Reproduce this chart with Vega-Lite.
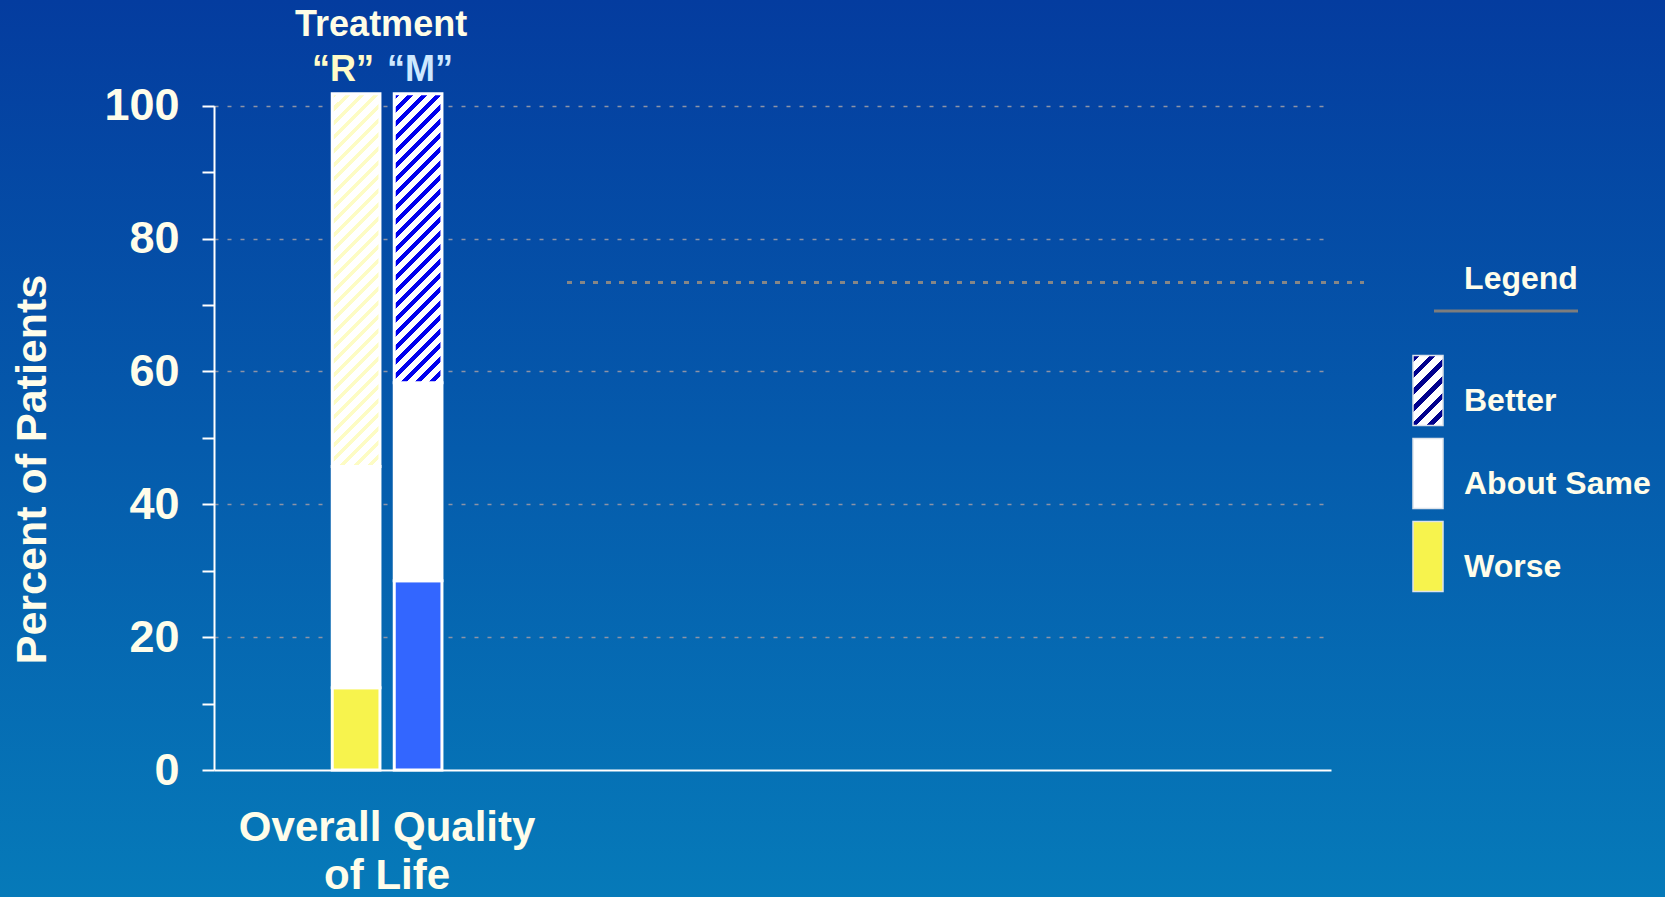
{
  "$schema": "https://vega.github.io/schema/vega-lite/v6.json",
  "width": 1665,
  "height": 897,
  "padding": 0,
  "autosize": {"type": "none"},
  "background": "#0560ab",
  "view": {
    "stroke": null,
    "fill": {"gradient": "linear", "x1": 1, "y1": 0, "x2": 1, "y2": 1,
      "stops": [{"offset": 0, "color": "#043c9f"}, {"offset": 1, "color": "#067ab9"}]}
  },
  "config": {"font": "Liberation Sans"},
  "datasets": {
    "bars": [
      {"Domain": "Overall Quality of Life", "Treatment": "R", "Response": "Worse", "Rank": 1, "Percent": 12.4},
      {"Domain": "Overall Quality of Life", "Treatment": "R", "Response": "About Same", "Rank": 2, "Percent": 33.3},
      {"Domain": "Overall Quality of Life", "Treatment": "R", "Response": "Better", "Rank": 3, "Percent": 56.1},
      {"Domain": "Overall Quality of Life", "Treatment": "M", "Response": "Worse", "Rank": 1, "Percent": 28.5},
      {"Domain": "Overall Quality of Life", "Treatment": "M", "Response": "About Same", "Rank": 2, "Percent": 29.8},
      {"Domain": "Overall Quality of Life", "Treatment": "M", "Response": "Better", "Rank": 3, "Percent": 43.5}
    ],
    "heads": [
      {"Domain": "Overall Quality of Life", "Treatment": "R", "Label": "“R”"},
      {"Domain": "Overall Quality of Life", "Treatment": "M", "Label": "“M”"}
    ]
  },
  "resolve": {"scale": {"x": "independent"}},
  "layer": [
    {
      "layer": [
        {
          "data": {"name": "bars"},
          "mark": {"type": "bar", "stroke": "#ffffff", "strokeWidth": 3},
          "encoding": {
            "x": {
              "field": "Domain", "type": "nominal",
              "scale": {"range": [214, 1331], "paddingInner": 0.7822, "paddingOuter": 1, "align": 0.1174},
              "axis": {
                "orient": "bottom", "offset": -127, "title": null, "ticks": false, "grid": false,
                "domainColor": "#ffffff", "domainWidth": 2, "zindex": 1,
                "labelExpr": "['Overall Quality', 'of Life']",
                "labelFontSize": 42, "labelFontWeight": "bold", "labelColor": "#fffdea",
                "labelPadding": 37, "labelLineHeight": 48, "labelAngle": 0, "labelLimit": 500, "labelBaseline": "top"
              }
            },
            "xOffset": {"field": "Treatment", "type": "nominal", "sort": ["R", "M"], "scale": {"paddingInner": 0.2306, "paddingOuter": 0}},
            "y": {
              "field": "Percent", "type": "quantitative", "stack": "zero",
              "scale": {"domain": [0, 100], "range": [770, 105.7], "nice": false, "zero": false},
              "axis": {
                "orient": "left", "offset": -214,
                "values": [0, 10, 20, 30, 40, 50, 60, 70, 80, 90, 100],
                "labelExpr": "datum.value % 20 === 0 ? datum.label : ''",
                "labelOverlap": false,
                "labelFontSize": 45, "labelFontWeight": "bold", "labelColor": "#fffdea", "labelPadding": 23,
                "tickSize": 12, "tickWidth": 2, "tickColor": "#ffffff",
                "domainColor": "#ffffff", "domainWidth": 2,
                "grid": true, "gridColor": "#8d93a6", "gridWidth": 1.5, "gridDash": [4, 9],
                "gridOpacity": {"condition": {"test": "datum.value > 0 && datum.value % 20 === 0", "value": 1}, "value": 0},
                "title": "Percent of Patients", "titleFontSize": 43, "titleFontWeight": "bold", "titleColor": "#fffdea",
                "titleAngle": -90, "titleX": -169, "titleY": 469, "titleAlign": "center", "titleBaseline": "alphabetic"
              }
            },
            "order": {"field": "Rank", "type": "quantitative", "sort": "ascending"},
            "fill": {
              "condition": [
                {"test": "datum.Treatment === 'R' && datum.Response === 'Better'", "value": {"gradient": "linear", "x1": 0, "y1": 0, "x2": 0.142, "y2": 1.1098, "stops": [
                  {"offset": 0, "color": "#fdfcc4"}, {"offset": 0.0133, "color": "#fdfcc4"}, {"offset": 0.0133, "color": "#ffffff"}, {"offset": 0.0333, "color": "#ffffff"},
                  {"offset": 0.0333, "color": "#fdfcc4"}, {"offset": 0.0467, "color": "#fdfcc4"}, {"offset": 0.0467, "color": "#ffffff"}, {"offset": 0.0667, "color": "#ffffff"},
                  {"offset": 0.0667, "color": "#fdfcc4"}, {"offset": 0.08, "color": "#fdfcc4"}, {"offset": 0.08, "color": "#ffffff"}, {"offset": 0.1, "color": "#ffffff"},
                  {"offset": 0.1, "color": "#fdfcc4"}, {"offset": 0.1133, "color": "#fdfcc4"}, {"offset": 0.1133, "color": "#ffffff"}, {"offset": 0.1333, "color": "#ffffff"},
                  {"offset": 0.1333, "color": "#fdfcc4"}, {"offset": 0.1467, "color": "#fdfcc4"}, {"offset": 0.1467, "color": "#ffffff"}, {"offset": 0.1667, "color": "#ffffff"},
                  {"offset": 0.1667, "color": "#fdfcc4"}, {"offset": 0.18, "color": "#fdfcc4"}, {"offset": 0.18, "color": "#ffffff"}, {"offset": 0.2, "color": "#ffffff"},
                  {"offset": 0.2, "color": "#fdfcc4"}, {"offset": 0.2133, "color": "#fdfcc4"}, {"offset": 0.2133, "color": "#ffffff"}, {"offset": 0.2333, "color": "#ffffff"},
                  {"offset": 0.2333, "color": "#fdfcc4"}, {"offset": 0.2467, "color": "#fdfcc4"}, {"offset": 0.2467, "color": "#ffffff"}, {"offset": 0.2667, "color": "#ffffff"},
                  {"offset": 0.2667, "color": "#fdfcc4"}, {"offset": 0.28, "color": "#fdfcc4"}, {"offset": 0.28, "color": "#ffffff"}, {"offset": 0.3, "color": "#ffffff"},
                  {"offset": 0.3, "color": "#fdfcc4"}, {"offset": 0.3133, "color": "#fdfcc4"}, {"offset": 0.3133, "color": "#ffffff"}, {"offset": 0.3333, "color": "#ffffff"},
                  {"offset": 0.3333, "color": "#fdfcc4"}, {"offset": 0.3467, "color": "#fdfcc4"}, {"offset": 0.3467, "color": "#ffffff"}, {"offset": 0.3667, "color": "#ffffff"},
                  {"offset": 0.3667, "color": "#fdfcc4"}, {"offset": 0.38, "color": "#fdfcc4"}, {"offset": 0.38, "color": "#ffffff"}, {"offset": 0.4, "color": "#ffffff"},
                  {"offset": 0.4, "color": "#fdfcc4"}, {"offset": 0.4133, "color": "#fdfcc4"}, {"offset": 0.4133, "color": "#ffffff"}, {"offset": 0.4333, "color": "#ffffff"},
                  {"offset": 0.4333, "color": "#fdfcc4"}, {"offset": 0.4467, "color": "#fdfcc4"}, {"offset": 0.4467, "color": "#ffffff"}, {"offset": 0.4667, "color": "#ffffff"},
                  {"offset": 0.4667, "color": "#fdfcc4"}, {"offset": 0.48, "color": "#fdfcc4"}, {"offset": 0.48, "color": "#ffffff"}, {"offset": 0.5, "color": "#ffffff"},
                  {"offset": 0.5, "color": "#fdfcc4"}, {"offset": 0.5133, "color": "#fdfcc4"}, {"offset": 0.5133, "color": "#ffffff"}, {"offset": 0.5333, "color": "#ffffff"},
                  {"offset": 0.5333, "color": "#fdfcc4"}, {"offset": 0.5467, "color": "#fdfcc4"}, {"offset": 0.5467, "color": "#ffffff"}, {"offset": 0.5667, "color": "#ffffff"},
                  {"offset": 0.5667, "color": "#fdfcc4"}, {"offset": 0.58, "color": "#fdfcc4"}, {"offset": 0.58, "color": "#ffffff"}, {"offset": 0.6, "color": "#ffffff"},
                  {"offset": 0.6, "color": "#fdfcc4"}, {"offset": 0.6133, "color": "#fdfcc4"}, {"offset": 0.6133, "color": "#ffffff"}, {"offset": 0.6333, "color": "#ffffff"},
                  {"offset": 0.6333, "color": "#fdfcc4"}, {"offset": 0.6467, "color": "#fdfcc4"}, {"offset": 0.6467, "color": "#ffffff"}, {"offset": 0.6667, "color": "#ffffff"},
                  {"offset": 0.6667, "color": "#fdfcc4"}, {"offset": 0.68, "color": "#fdfcc4"}, {"offset": 0.68, "color": "#ffffff"}, {"offset": 0.7, "color": "#ffffff"},
                  {"offset": 0.7, "color": "#fdfcc4"}, {"offset": 0.7133, "color": "#fdfcc4"}, {"offset": 0.7133, "color": "#ffffff"}, {"offset": 0.7333, "color": "#ffffff"},
                  {"offset": 0.7333, "color": "#fdfcc4"}, {"offset": 0.7467, "color": "#fdfcc4"}, {"offset": 0.7467, "color": "#ffffff"}, {"offset": 0.7667, "color": "#ffffff"},
                  {"offset": 0.7667, "color": "#fdfcc4"}, {"offset": 0.78, "color": "#fdfcc4"}, {"offset": 0.78, "color": "#ffffff"}, {"offset": 0.8, "color": "#ffffff"},
                  {"offset": 0.8, "color": "#fdfcc4"}, {"offset": 0.8133, "color": "#fdfcc4"}, {"offset": 0.8133, "color": "#ffffff"}, {"offset": 0.8333, "color": "#ffffff"},
                  {"offset": 0.8333, "color": "#fdfcc4"}, {"offset": 0.8467, "color": "#fdfcc4"}, {"offset": 0.8467, "color": "#ffffff"}, {"offset": 0.8667, "color": "#ffffff"},
                  {"offset": 0.8667, "color": "#fdfcc4"}, {"offset": 0.88, "color": "#fdfcc4"}, {"offset": 0.88, "color": "#ffffff"}, {"offset": 0.9, "color": "#ffffff"},
                  {"offset": 0.9, "color": "#fdfcc4"}, {"offset": 0.9133, "color": "#fdfcc4"}, {"offset": 0.9133, "color": "#ffffff"}, {"offset": 0.9333, "color": "#ffffff"},
                  {"offset": 0.9333, "color": "#fdfcc4"}, {"offset": 0.9467, "color": "#fdfcc4"}, {"offset": 0.9467, "color": "#ffffff"}, {"offset": 0.9667, "color": "#ffffff"},
                  {"offset": 0.9667, "color": "#fdfcc4"}, {"offset": 0.98, "color": "#fdfcc4"}, {"offset": 0.98, "color": "#ffffff"}, {"offset": 1, "color": "#ffffff"}
                ]}},
                {"test": "datum.Treatment === 'M' && datum.Response === 'Better'", "value": {"gradient": "linear", "x1": 0, "y1": 0, "x2": 0.1872, "y2": 1.1342, "stops": [
                  {"offset": 0, "color": "#0000ee"}, {"offset": 0.0188, "color": "#0000ee"}, {"offset": 0.0188, "color": "#ffffff"}, {"offset": 0.0417, "color": "#ffffff"},
                  {"offset": 0.0417, "color": "#0000ee"}, {"offset": 0.0604, "color": "#0000ee"}, {"offset": 0.0604, "color": "#ffffff"}, {"offset": 0.0833, "color": "#ffffff"},
                  {"offset": 0.0833, "color": "#0000ee"}, {"offset": 0.1021, "color": "#0000ee"}, {"offset": 0.1021, "color": "#ffffff"}, {"offset": 0.125, "color": "#ffffff"},
                  {"offset": 0.125, "color": "#0000ee"}, {"offset": 0.1438, "color": "#0000ee"}, {"offset": 0.1438, "color": "#ffffff"}, {"offset": 0.1667, "color": "#ffffff"},
                  {"offset": 0.1667, "color": "#0000ee"}, {"offset": 0.1854, "color": "#0000ee"}, {"offset": 0.1854, "color": "#ffffff"}, {"offset": 0.2083, "color": "#ffffff"},
                  {"offset": 0.2083, "color": "#0000ee"}, {"offset": 0.2271, "color": "#0000ee"}, {"offset": 0.2271, "color": "#ffffff"}, {"offset": 0.25, "color": "#ffffff"},
                  {"offset": 0.25, "color": "#0000ee"}, {"offset": 0.2688, "color": "#0000ee"}, {"offset": 0.2688, "color": "#ffffff"}, {"offset": 0.2917, "color": "#ffffff"},
                  {"offset": 0.2917, "color": "#0000ee"}, {"offset": 0.3104, "color": "#0000ee"}, {"offset": 0.3104, "color": "#ffffff"}, {"offset": 0.3333, "color": "#ffffff"},
                  {"offset": 0.3333, "color": "#0000ee"}, {"offset": 0.3521, "color": "#0000ee"}, {"offset": 0.3521, "color": "#ffffff"}, {"offset": 0.375, "color": "#ffffff"},
                  {"offset": 0.375, "color": "#0000ee"}, {"offset": 0.3938, "color": "#0000ee"}, {"offset": 0.3938, "color": "#ffffff"}, {"offset": 0.4167, "color": "#ffffff"},
                  {"offset": 0.4167, "color": "#0000ee"}, {"offset": 0.4354, "color": "#0000ee"}, {"offset": 0.4354, "color": "#ffffff"}, {"offset": 0.4583, "color": "#ffffff"},
                  {"offset": 0.4583, "color": "#0000ee"}, {"offset": 0.4771, "color": "#0000ee"}, {"offset": 0.4771, "color": "#ffffff"}, {"offset": 0.5, "color": "#ffffff"},
                  {"offset": 0.5, "color": "#0000ee"}, {"offset": 0.5188, "color": "#0000ee"}, {"offset": 0.5188, "color": "#ffffff"}, {"offset": 0.5417, "color": "#ffffff"},
                  {"offset": 0.5417, "color": "#0000ee"}, {"offset": 0.5604, "color": "#0000ee"}, {"offset": 0.5604, "color": "#ffffff"}, {"offset": 0.5833, "color": "#ffffff"},
                  {"offset": 0.5833, "color": "#0000ee"}, {"offset": 0.6021, "color": "#0000ee"}, {"offset": 0.6021, "color": "#ffffff"}, {"offset": 0.625, "color": "#ffffff"},
                  {"offset": 0.625, "color": "#0000ee"}, {"offset": 0.6438, "color": "#0000ee"}, {"offset": 0.6438, "color": "#ffffff"}, {"offset": 0.6667, "color": "#ffffff"},
                  {"offset": 0.6667, "color": "#0000ee"}, {"offset": 0.6854, "color": "#0000ee"}, {"offset": 0.6854, "color": "#ffffff"}, {"offset": 0.7083, "color": "#ffffff"},
                  {"offset": 0.7083, "color": "#0000ee"}, {"offset": 0.7271, "color": "#0000ee"}, {"offset": 0.7271, "color": "#ffffff"}, {"offset": 0.75, "color": "#ffffff"},
                  {"offset": 0.75, "color": "#0000ee"}, {"offset": 0.7688, "color": "#0000ee"}, {"offset": 0.7688, "color": "#ffffff"}, {"offset": 0.7917, "color": "#ffffff"},
                  {"offset": 0.7917, "color": "#0000ee"}, {"offset": 0.8104, "color": "#0000ee"}, {"offset": 0.8104, "color": "#ffffff"}, {"offset": 0.8333, "color": "#ffffff"},
                  {"offset": 0.8333, "color": "#0000ee"}, {"offset": 0.8521, "color": "#0000ee"}, {"offset": 0.8521, "color": "#ffffff"}, {"offset": 0.875, "color": "#ffffff"},
                  {"offset": 0.875, "color": "#0000ee"}, {"offset": 0.8938, "color": "#0000ee"}, {"offset": 0.8938, "color": "#ffffff"}, {"offset": 0.9167, "color": "#ffffff"},
                  {"offset": 0.9167, "color": "#0000ee"}, {"offset": 0.9354, "color": "#0000ee"}, {"offset": 0.9354, "color": "#ffffff"}, {"offset": 0.9583, "color": "#ffffff"},
                  {"offset": 0.9583, "color": "#0000ee"}, {"offset": 0.9771, "color": "#0000ee"}, {"offset": 0.9771, "color": "#ffffff"}, {"offset": 1, "color": "#ffffff"}
                ]}},
                {"test": "datum.Treatment === 'M' && datum.Response === 'Worse'", "value": "#3366ff"}
              ],
              "field": "Response", "type": "nominal",
              "scale": {
                "domain": ["Better", "About Same", "Worse"],
                "range": [
                  {"expr": "{gradient: 'linear', x1: 0, y1: 0, x2: 0.5172, y2: 1.2069, stops: [{offset: 0, color: '#00008c'}, {offset: 0.0667, color: '#00008c'}, {offset: 0.0667, color: '#ffffff'}, {offset: 0.1667, color: '#ffffff'}, {offset: 0.1667, color: '#00008c'}, {offset: 0.2333, color: '#00008c'}, {offset: 0.2333, color: '#ffffff'}, {offset: 0.3333, color: '#ffffff'}, {offset: 0.3333, color: '#00008c'}, {offset: 0.4, color: '#00008c'}, {offset: 0.4, color: '#ffffff'}, {offset: 0.5, color: '#ffffff'}, {offset: 0.5, color: '#00008c'}, {offset: 0.5667, color: '#00008c'}, {offset: 0.5667, color: '#ffffff'}, {offset: 0.6667, color: '#ffffff'}, {offset: 0.6667, color: '#00008c'}, {offset: 0.7333, color: '#00008c'}, {offset: 0.7333, color: '#ffffff'}, {offset: 0.8333, color: '#ffffff'}, {offset: 0.8333, color: '#00008c'}, {offset: 0.9, color: '#00008c'}, {offset: 0.9, color: '#ffffff'}, {offset: 1, color: '#ffffff'}]}"},
                  "#ffffff",
                  "#f7f34d"
                ]
              },
              "legend": {
                "orient": "none", "legendX": 1392, "legendY": 264, "direction": "vertical", "padding": 0,
                "title": "Legend\u00a0\u00a0", "titleFontSize": 32, "titleFontWeight": "bold", "titleColor": "#fffdea",
                "titleAnchor": "middle", "titlePadding": 53.6,
                "labelFontSize": 32, "labelFontWeight": "bold", "labelColor": "#fffdea", "labelOffset": 0,
                "labelLimit": 400, "labelBaseline": "top",
                "symbolType": "M-0.4286,-0.8571H0.4286V1.1429H-0.4286Z", "symbolSize": 4900,
                "symbolStrokeColor": "#dde3ea", "symbolStrokeWidth": 1.5, "symbolOpacity": 1,
                "rowPadding": 3
              }
            }
          }
        },
        {
          "data": {"name": "heads"},
          "mark": {"type": "text", "fontSize": 36, "fontWeight": "bold", "baseline": "alphabetic", "align": "center",
            "dx": {"expr": "datum.Treatment === 'R' ? -13 : 2"}},
          "encoding": {
            "x": {"field": "Domain", "type": "nominal"},
            "xOffset": {"field": "Treatment", "type": "nominal", "sort": ["R", "M"]},
            "y": {"datum": 103.7},
            "text": {"field": "Label"},
            "fill": {"condition": {"test": "datum.Treatment === 'R'", "value": "#fffbc8"}, "value": "#cde8ff"}
          }
        },
        {
          "data": {"values": [{}]},
          "mark": {"type": "text", "fontSize": 36, "fontWeight": "bold", "baseline": "alphabetic", "align": "center", "dx": -6, "fill": "#fffde6"},
          "encoding": {
            "x": {"datum": "Overall Quality of Life"},
            "y": {"datum": 110.5},
            "text": {"value": "Treatment"}
          }
        }
      ]
    },
    {
      "data": {"values": [{}]},
      "mark": {"type": "rule", "color": "#868686", "strokeWidth": 3, "strokeDash": [5, 8]},
      "encoding": {
        "x": {"datum": 0, "type": "quantitative", "scale": {"domain": [0, 1], "range": [567, 1364]}, "axis": null},
        "x2": {"datum": 1},
        "y": {"datum": 73.4}
      }
    },
    {
      "data": {"values": [{}]},
      "mark": {"type": "rule", "color": "#7d7d7d", "strokeWidth": 3},
      "encoding": {
        "x": {"datum": 0, "type": "quantitative", "scale": {"domain": [0, 1], "range": [1434, 1578]}, "axis": null},
        "x2": {"datum": 1},
        "y": {"datum": 69.1}
      }
    }
  ]
}
